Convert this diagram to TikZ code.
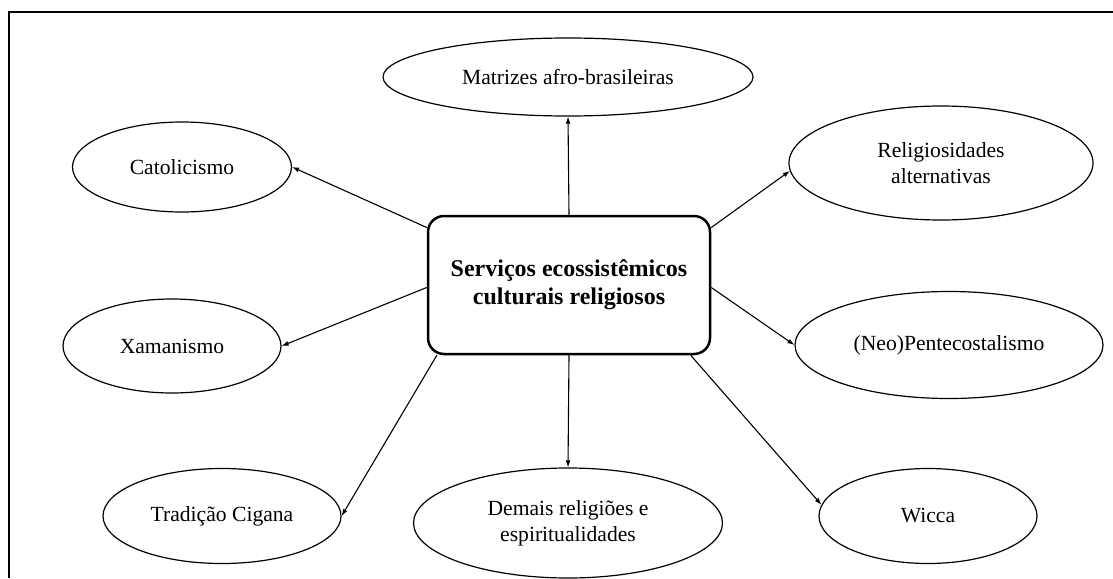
\documentclass[tikz,border=0pt]{standalone}
\usepackage{fontspec}
\setmainfont{Liberation Serif}
\usetikzlibrary{shapes.geometric,arrows.meta}
\begin{document}
\begin{tikzpicture}[x=1pt,y=-1pt,
  leaf/.style={draw, ellipse, line width=1.2pt, inner sep=0pt, align=center,
    font=\fontsize{21.6}{26}\selectfont},
  hub/.style={draw, rectangle, rounded corners=16pt, line width=2.5pt,
    minimum width=282pt, minimum height=138pt, align=center,
    font=\fontsize{24}{28}\selectfont\bfseries},
  link/.style={line width=1.1pt, -{Latex[length=7pt,width=5pt]}},
  frame/.style={line width=2pt}]
\useasboundingbox (0,0) rectangle (1113,578);

% open frame: top and left edges
\coordinate (ftl) at (8.5,12.5);
\coordinate (ftr) at (1113,12.5);
\coordinate (fbl) at (8.5,578);
\draw[frame] (ftr) -- (ftl) -- (fbl);

% central box
\node[hub] (hub) at (569,285) {Serviços ecossistêmicos\\culturais religiosos};

% surrounding ellipses
\node[leaf, minimum width=370pt, minimum height=78pt] (afro) at (568,77) {Matrizes afro-brasileiras};
\node[leaf, minimum width=219pt, minimum height=90pt] (cato) at (182,167) {Catolicismo};
\node[leaf, minimum width=304pt, minimum height=114pt] (alt) at (941,163) {Religiosidades\\alternativas};
\node[leaf, minimum width=218pt, minimum height=94pt] (xama) at (172,346) {Xamanismo};
\node[leaf, minimum width=308pt, minimum height=107pt] (pent) at (949,345) {(Neo)Pentecostalismo};
\node[leaf, minimum width=238pt, minimum height=95pt] (ciga) at (222,516) {Tradição Cigana};
\node[leaf, minimum width=309pt, minimum height=110pt] (dema) at (568,523) {Demais religiões e\\espiritualidades};
\node[leaf, minimum width=218pt, minimum height=95pt] (wicc) at (928,516) {Wicca};

% connectors
\draw[link] (hub.north) -- (afro.south);
\draw[link] (hub.158) -- (cato.east);
\draw[link] (hub.22) -- (alt.183);
\draw[link] (hub.181) -- (xama.east);
\draw[link] (hub.-1) -- (pent.west);
\draw[link] (hub.208) -- (ciga.east);
\draw[link] (hub.south) -- (dema.north);
\draw[link] (hub.330.5) -- (wicc.174);
\end{tikzpicture}
\end{document}
